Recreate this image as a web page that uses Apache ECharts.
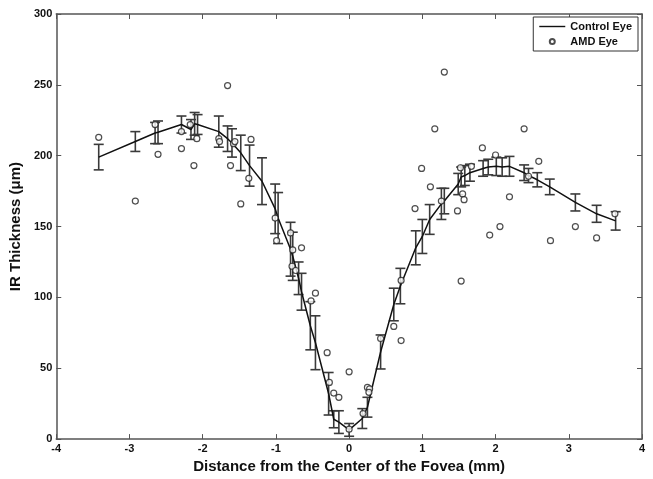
<!DOCTYPE html>
<html>
<head>
<meta charset="utf-8">
<script src="https://cdn.jsdelivr.net/npm/echarts@6/dist/echarts.min.js"></script>
<style>
  html, body { margin: 0; padding: 0; background: #fff; }
  #chart { width: 653px; height: 479px; }
</style>
</head>
<body>
<div id="chart"></div>
<script>
// control eye: position (mm), mean thickness and error bar half-height
var ctrlX = [-3.42, -2.92, -2.65, -2.61, -2.29, -2.16, -2.11, -2.07, -1.78, -1.66, -1.60, -1.48, -1.36, -1.19,
  -1.01, -0.97, -0.80, -0.77, -0.69, -0.65, -0.53, -0.46, -0.28, -0.21, -0.14, 0.0, 0.18, 0.25, 0.43, 0.61,
  0.70, 0.91, 1.00, 1.10, 1.26, 1.30, 1.49, 1.53, 1.58, 1.65, 1.83, 1.90, 2.01, 2.09, 2.19, 2.39, 2.45, 2.57,
  2.74, 3.09, 3.38, 3.64];
var ctrlMean = [199, 210, 216, 216.5, 222, 218.5, 222.5, 222, 217, 212, 209, 202, 193, 182,
  162.5, 156, 134, 129, 113.5, 104, 80, 68, 32, 14, 12, 6.5, 14.5, 22.5, 61.5, 95,
  108, 135, 143, 155, 166, 168, 180, 185, 186, 188, 191, 192, 192.5, 192, 192.5, 188, 186, 183,
  178, 167, 159, 154];
var ctrlErr = [9, 7, 7.5, 8, 6, 7, 8, 7, 11, 9, 10, 12.5, 14.5, 16.5,
  17.5, 18, 19, 17, 11.5, 13, 17, 19, 15, 6, 8, 4.5, 7, 7, 12, 11.5,
  12.5, 12, 12, 10.5, 11, 9, 7.5, 7, 7, 6, 5.5, 5.5, 6.5, 6.5, 7, 5.5, 5, 5,
  5.5, 6, 6, 6.5];

// AMD eye: individual measurements
var amdX = [-3.42, -2.92, -2.65, -2.61, -2.29, -2.29, -2.17, -2.12, -2.08, -1.78, -1.77, -1.66, -1.62, -1.58,
  -1.56, -1.48, -1.37, -1.34, -1.01, -0.99, -0.80, -0.77, -0.65, -0.78, -0.73, -0.46, -0.52, -0.30, -0.27,
  -0.21, -0.14, 0.0, 0.0, 0.19, 0.25, 0.28, 0.27, 0.43, 0.61, 0.71, 0.71, 0.90, 0.99, 1.11, 1.17, 1.26, 1.30,
  1.48, 1.52, 1.53, 1.55, 1.57, 1.67, 1.82, 1.92, 2.00, 2.06, 2.19, 2.39, 2.45, 2.59, 2.75, 3.09, 3.38, 3.63];
var amdY = [213, 168, 222, 201, 217, 205, 222, 193, 212, 212, 210, 249.5, 193, 208.5,
  210, 166, 184, 211.5, 156, 140, 145.5, 133.5, 135, 122, 119, 103, 97.5, 61, 40,
  32.5, 29.5, 47.5, 7, 18, 36.5, 35.5, 33, 71, 79.5, 69.5, 112, 162.7, 191, 178, 219, 168, 259,
  161, 191.5, 111.5, 173, 169, 192.5, 205.5, 144, 200.5, 150, 171, 219, 185.5, 196, 140, 150, 142, 159];

var ctrlLine = ctrlX.map(function (x, i) { return [x, ctrlMean[i]]; });
var ctrlBars = ctrlX.map(function (x, i) { return [x, ctrlMean[i] - ctrlErr[i], ctrlMean[i] + ctrlErr[i]]; });
var amdPts = amdX.map(function (x, i) { return [x, amdY[i]]; });

var font = 'Liberation Sans, Arial, sans-serif';
var axisGray = '#555';

var chart = echarts.init(document.getElementById('chart'));

function errorBar(params, api) {
  var lo = api.coord([api.value(0), api.value(1)]);
  var hi = api.coord([api.value(0), api.value(2)]);
  var cap = 5;
  var style = { stroke: '#3a3a3a', lineWidth: 1.6 };
  return {
    type: 'group',
    children: [
      { type: 'line', shape: { x1: lo[0], y1: lo[1], x2: hi[0], y2: hi[1] }, style: style },
      { type: 'line', shape: { x1: lo[0] - cap, y1: lo[1], x2: lo[0] + cap, y2: lo[1] }, style: style },
      { type: 'line', shape: { x1: hi[0] - cap, y1: hi[1], x2: hi[0] + cap, y2: hi[1] }, style: style }
    ]
  };
}

var tickStyle = { show: true, inside: true, length: 5, lineStyle: { color: axisGray, width: 1 } };
var lineStyle = { show: true, onZero: false, lineStyle: { color: axisGray, width: 1.5 } };
var labelStyle = { color: '#111', fontWeight: 'bold', fontSize: 11, fontFamily: font };

chart.setOption({
  animation: false,
  grid: { left: 53, right: 11, top: 14, bottom: 33 },
  legend: {
    right: 15, top: 17,
    orient: 'vertical',
    itemGap: 4,
    itemWidth: 26, itemHeight: 5,
    padding: [4, 6, 4, 6],
    borderColor: '#333', borderWidth: 1,
    backgroundColor: '#fff',
    textStyle: { color: '#111', fontWeight: 'bold', fontSize: 11, fontFamily: font },
    data: [
      { name: 'Control Eye', icon: 'path://M0,0L26,0L26,1.4L0,1.4Z', itemStyle: { color: '#111' } },
      { name: 'AMD Eye' }
    ]
  },
  xAxis: [{
    type: 'value', min: -4, max: 4, interval: 1,
    name: 'Distance from the Center of the Fovea (mm)',
    nameLocation: 'middle', nameGap: 15,
    nameTextStyle: { color: '#111', fontWeight: 'bold', fontSize: 15, fontFamily: font },
    axisLine: lineStyle, axisTick: tickStyle,
    axisLabel: Object.assign({ margin: 4 }, labelStyle),
    splitLine: { show: false }
  }, {
    type: 'value', min: -4, max: 4, interval: 1, position: 'top',
    axisLine: lineStyle, axisTick: tickStyle,
    axisLabel: { show: false }, splitLine: { show: false }
  }],
  yAxis: [{
    type: 'value', min: 0, max: 300, interval: 50,
    name: 'IR Thickness (\u03bcm)',
    nameLocation: 'middle', nameGap: 28,
    nameTextStyle: { color: '#111', fontWeight: 'bold', fontSize: 15, fontFamily: font },
    axisLine: lineStyle, axisTick: tickStyle,
    axisLabel: Object.assign({ margin: 4 }, labelStyle),
    splitLine: { show: false }
  }, {
    type: 'value', min: 0, max: 300, interval: 50, position: 'right',
    axisLine: lineStyle, axisTick: tickStyle,
    axisLabel: { show: false }, splitLine: { show: false }
  }],
  series: [{
    name: 'Control Eye',
    type: 'line',
    data: ctrlLine,
    symbol: 'none',
    showSymbol: false,
    lineStyle: { color: '#111', width: 1.5 },
    itemStyle: { color: '#111' },
    z: 3
  }, {
    name: 'Control SD',
    type: 'custom',
    data: ctrlBars,
    renderItem: errorBar,
    encode: { x: 0, y: [1, 2] },
    z: 2
  }, {
    name: 'AMD Eye',
    type: 'scatter',
    data: amdPts,
    symbol: 'circle',
    symbolSize: 6,
    itemStyle: { color: '#fff', borderColor: '#222', borderWidth: 1.2 },
    z: 4
  }]
});
</script>
</body>
</html>
